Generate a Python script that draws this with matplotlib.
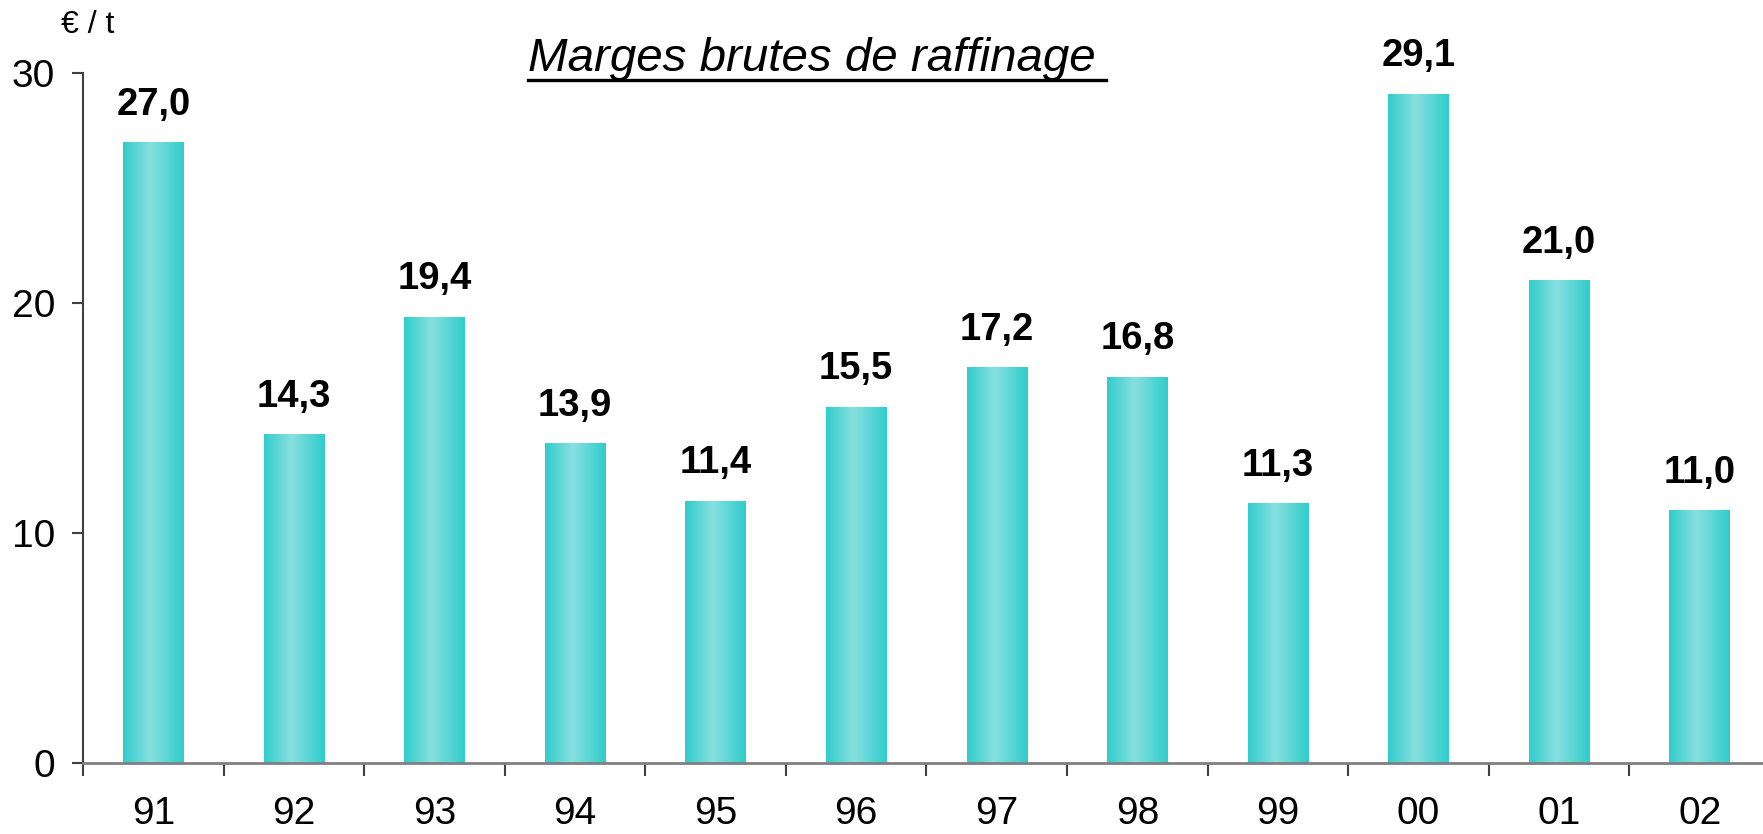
import numpy as np
import matplotlib
matplotlib.use('Agg')
import matplotlib.pyplot as plt
from matplotlib.colors import LinearSegmentedColormap
from matplotlib.lines import Line2D

plt.rcParams['font.family'] = ['Liberation Sans', 'DejaVu Sans']

# Data
years = ['91', '92', '93', '94', '95', '96', '97', '98', '99', '00', '01', '02']
margins = [27.0, 14.3, 19.4, 13.9, 11.4, 15.5, 17.2, 16.8, 11.3, 29.1, 21.0, 11.0]
yticks = [0, 10, 20, 30]

fig = plt.figure(figsize=(17.63, 8.34), dpi=100)
ax = fig.add_axes([83 / 1763, 71 / 834, 1687 / 1763, 690 / 834])

x = np.arange(len(years))
bars = ax.bar(x, margins, width=0.43, color='none', edgecolor='none', zorder=2)

# horizontal gradient inside each bar: darker edges, light middle
cmap = LinearSegmentedColormap.from_list('teal', [
    (0.0, '#30CCCC'), (0.45, '#88E0E0'), (1.0, '#30CCCC')])
grad = np.linspace(0, 1, 256).reshape(1, -1)
for b in bars:
    x0, w, h = b.get_x(), b.get_width(), b.get_height()
    im = ax.imshow(grad, cmap=cmap, aspect='auto', extent=[x0, x0 + w, 0, h],
                   interpolation='bicubic', zorder=2)
    im.set_clip_path(b)

for xi, v in zip(x, margins):
    ax.annotate(f'{v:.1f}'.replace('.', ','), (xi, v), xytext=(0, 14),
                textcoords='offset points', ha='center', va='bottom',
                fontsize=27.5, fontweight='bold')

ax.set_xlim(-0.5, len(years) - 0.5)
ax.set_ylim(0, 30)
ax.set_yticks(yticks)
ax.set_yticklabels([str(t) for t in yticks], fontsize=28)
ax.set_xticks(x)
ax.set_xticklabels(years, fontsize=28)
ax.set_xticks(np.arange(len(years) + 1) - 0.5, minor=True)

ax.tick_params(axis='x', which='major', length=0, pad=24)
ax.tick_params(axis='x', which='minor', length=9, width=1.5, color='#404040', direction='out')
ax.tick_params(axis='y', length=8, width=1.5, color='#404040', pad=12)

for s in ['top', 'right']:
    ax.spines[s].set_visible(False)
ax.spines['left'].set_color('#404040')
ax.spines['left'].set_linewidth(1.5)
ax.spines['bottom'].set_color('#808080')
ax.spines['bottom'].set_linewidth(2)

fig.text(61 / 1763, 1 - 25 / 834, '€ / t', fontsize=23, va='center', ha='left')

title = fig.text(812 / 1763, 1 - 71 / 834, 'Marges brutes de raffinage', fontsize=34.2,
                 style='italic', ha='center', va='baseline')

# underline the title
fig.canvas.draw()
bb = title.get_window_extent().transformed(fig.transFigure.inverted())
fig.add_artist(Line2D([bb.x0, bb.x1 + 0.006], [1 - 80 / 834] * 2,
                      transform=fig.transFigure, color='black', lw=2.4))

fig.savefig('out.png', dpi=100)
